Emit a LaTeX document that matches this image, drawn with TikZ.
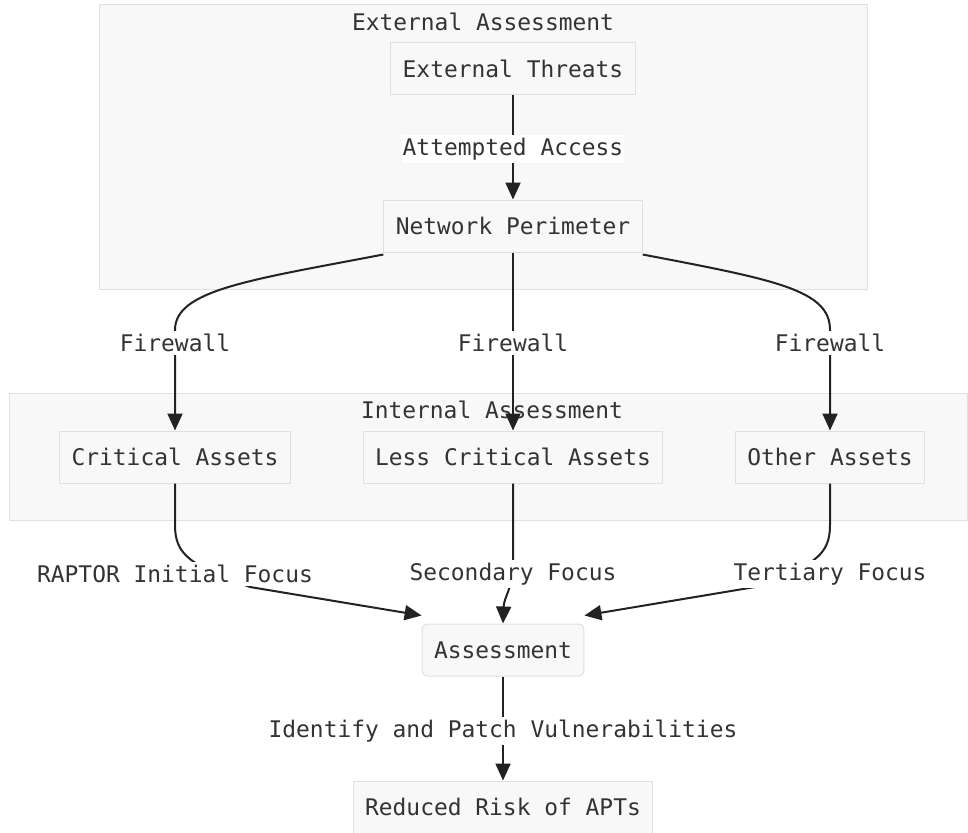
\documentclass[tikz,border=0pt]{standalone}
\usepackage{fontspec}
\setmonofont{DejaVu Sans Mono}
\usetikzlibrary{arrows.meta}
\definecolor{boxfill}{HTML}{F8F8F8}
\definecolor{boxline}{HTML}{E0E0E0}
\definecolor{txt}{HTML}{333333}
\definecolor{edgecol}{HTML}{222222}
\begin{document}
\begin{tikzpicture}[x=1pt,y=-1pt,
  every node/.style={font=\ttfamily\fontsize{22.9}{27}\selectfont, text=txt},
  cluster/.style={draw=boxline, fill=boxfill, line width=1pt},
  ctitle/.style={inner sep=0pt},
  box/.style={draw=boxline, fill=boxfill, line width=1pt, inner xsep=12pt, minimum height=52pt},
  rbox/.style={box, rounded corners=5pt},
  lbl/.style={fill=white, inner xsep=1pt, inner ysep=3pt},
  edge/.style={draw=edgecol, line width=2pt, -{Triangle[length=17pt,width=15pt]}}]
\useasboundingbox (0,0) rectangle (968,832);
% clusters
\draw[cluster] (99,5) rectangle (867,289);
\node[ctitle] (extt) at (483,22) {External Assessment};
\draw[cluster] (9,393) rectangle (967,520);
\node[ctitle] (intt) at (492,410) {Internal Assessment};
% nodes
\node[box] (et) at (513,69) {External Threats};
\node[box] (np) at (513,226) {Network Perimeter};
\node[box] (ca) at (175,457) {Critical Assets};
\node[box] (lca) at (513,457) {Less Critical Assets};
\node[box] (oa) at (830,457) {Other Assets};
\node[rbox] (as) at (503,650) {Assessment};
\node[box] (rr) at (503,807) {Reduced Risk of APTs};
% edges
\path[edge] (et) -- (np);
\path[edge] ([yshift=-2pt]np.south west) .. controls (250,280) and (175,290) .. (175,330) -- (ca.north);
\path[edge] (np.south) -- (lca.north);
\path[edge] ([yshift=-2pt]np.south east) .. controls (776,280) and (830,290) .. (830,330) -- (oa.north);
\path[edge] (ca.south) -- (175,525) .. controls (175,555) and (190,565) .. (250,587) -- ([yshift=8pt]as.north west);
\path[edge] (lca.south) -- (513,560) .. controls (513,590) and (504,596) .. (as.north);
\path[edge] (oa.south) -- (830,525) .. controls (830,555) and (815,565) .. (755,587) -- ([yshift=8pt]as.north east);
\path[edge] (as) -- (rr);
% edge labels
\node[lbl] (l1) at (513,149) {Attempted Access};
\node[lbl] (l2) at (175,343) {Firewall};
\node[lbl] (l3) at (513,343) {Firewall};
\node[lbl] (l4) at (830,343) {Firewall};
\node[lbl] (l5) at (175,574) {RAPTOR Initial Focus};
\node[lbl] (l6) at (513,574) {Secondary Focus};
\node[lbl] (l7) at (830,574) {Tertiary Focus};
\node[lbl] (l8) at (503,731) {Identify and Patch Vulnerabilities};
\end{tikzpicture}
\end{document}
